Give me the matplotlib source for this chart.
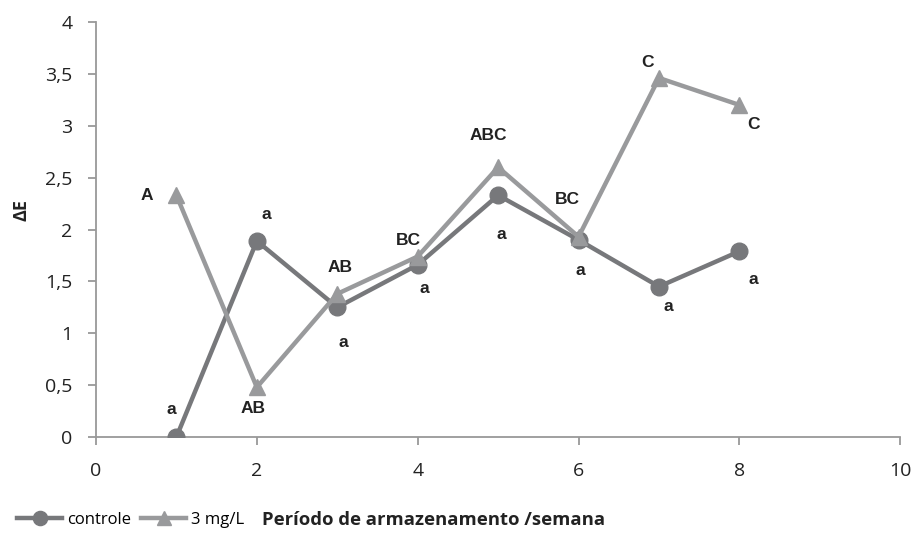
import matplotlib.pyplot as plt

# weeks of storage
semanas = [1, 2, 3, 4, 5, 6, 7, 8]
controle = [0.0, 1.89, 1.25, 1.66, 2.33, 1.90, 1.45, 1.79]
mg3 = [2.33, 0.48, 1.38, 1.74, 2.60, 1.93, 3.46, 3.20]

letras_controle = ["a", "a", "a", "a", "a", "a", "a", "a"]
letras_mg3 = ["A", "AB", "AB", "BC", "ABC", "BC", "C", "C"]

# label offsets in points (dx, dy)
off_controle = [(-4, 20), (6.5, 19), (4, -25), (5, -17), (2, -28), (1, -22), (6.5, -14), (10, -20)]
off_mg3 = [(-21, 0), (-3, -15), (2, 19), (-6.5, 11.5), (-7, 23), (-8, 27), (-8, 11.5), (10, -14)]

c_ctrl = "#77787b"
c_mg3 = "#999a9c"

plt.rcParams["font.family"] = ["Open Sans", "DejaVu Sans"]

fig = plt.figure(figsize=(9.14, 5.35), dpi=100)
ax = fig.add_axes([0.105, 0.183, 0.88, 0.776])

l1, = ax.plot(semanas, controle, color=c_ctrl, lw=3.2, marker="o", ms=12, label="controle", zorder=3)
l2, = ax.plot(semanas, mg3, color=c_mg3, lw=3.2, marker="^", ms=12, label="3 mg/L", zorder=4)

for x, y, t, o in zip(semanas, controle, letras_controle, off_controle):
    ax.annotate(t, (x, y), xytext=o, textcoords="offset points", ha="center", va="center",
                fontsize=12.5, fontweight="bold", family="Liberation Sans", color="#222222")
for x, y, t, o in zip(semanas, mg3, letras_mg3, off_mg3):
    ax.annotate(t, (x, y), xytext=o, textcoords="offset points", ha="center", va="center",
                fontsize=12.5, fontweight="bold", family="Liberation Sans", color="#222222")

ax.set_xlim(0, 10)
ax.set_ylim(0, 4)
ax.set_xticks([0, 2, 4, 6, 8, 10])
ax.set_yticks([0, 0.5, 1, 1.5, 2, 2.5, 3, 3.5, 4])
ax.set_yticklabels(["0", "0,5", "1", "1,5", "2", "2,5", "3", "3,5", "4"])
ax.tick_params(labelsize=14, colors="#999999", labelcolor="#222222", length=6, width=1.3)
ax.tick_params(axis="x", pad=12)
ax.tick_params(axis="y", pad=11)
for s in ["top", "right"]:
    ax.spines[s].set_visible(False)
for s in ["left", "bottom"]:
    ax.spines[s].set_color("#999999")
    ax.spines[s].set_linewidth(1.3)

fig.text(0.024, 0.607, "ΔE", rotation=90, fontsize=13, fontweight="bold", color="#222222",
         ha="center", va="center")

fig.legend(handles=[l1, l2], loc="center left", bbox_to_anchor=(0.008, 0.028), ncol=2, frameon=False,
           fontsize=12, handlelength=2.7, handletextpad=0.3, columnspacing=0.6, borderaxespad=0.2,
           markerscale=0.85)
fig.text(0.287, 0.028, "Período de armazenamento /semana", fontsize=13.3, fontweight="bold",
         color="#222222", va="center")

plt.savefig("out.png", dpi=100)
